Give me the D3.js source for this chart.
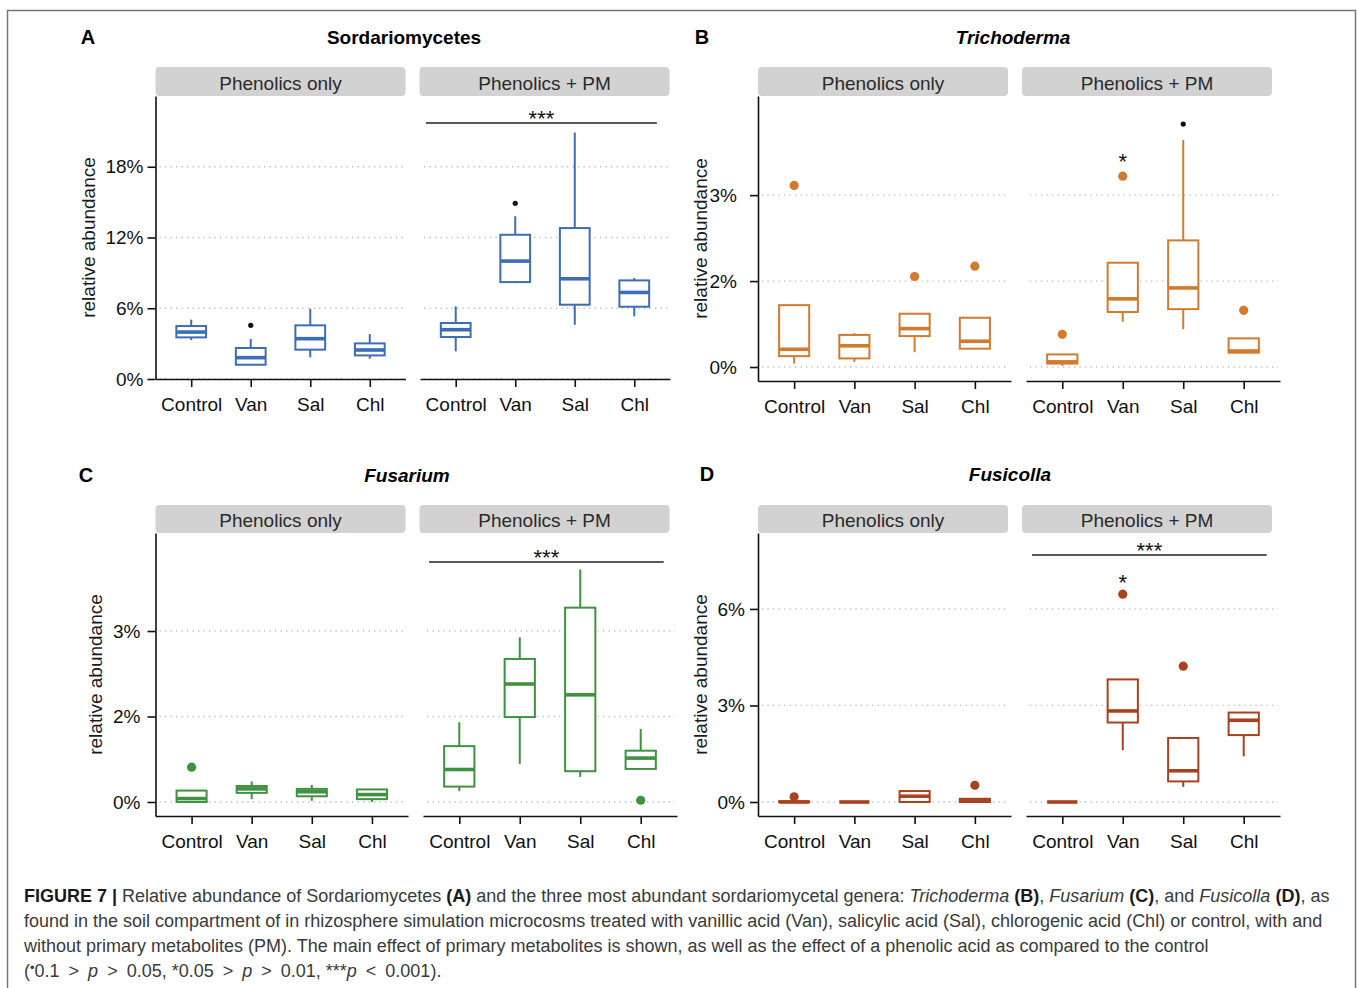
<!DOCTYPE html>
<html>
<head>
<meta charset="utf-8">
<script src="https://cdn.jsdelivr.net/npm/d3@7"></script>
<style>
  body { margin: 0; background: #fff; }
  text { font-family: "Liberation Sans", Arial, Helvetica, sans-serif; }
</style>
</head>
<body>
<svg id="chart" width="1358" height="988"></svg>
<script>
// categories shared by every panel
const groups = ["Control", "Van", "Sal", "Chl"];
const facets = ["Phenolics only", "Phenolics + PM"];

// box stats in %: [facet, group, lower whisker, q1, median, q3, upper whisker]
const sordBoxes = [
  ["Phenolics only", "Control", 3.3, 3.53, 3.98, 4.49, 5.03],
  ["Phenolics only", "Van", 1.2, 1.21, 1.81, 2.63, 3.39],
  ["Phenolics only", "Sal", 1.84, 2.49, 3.42, 4.55, 5.96],
  ["Phenolics only", "Chl", 1.72, 2.0, 2.46, 3.02, 3.81],
  ["Phenolics + PM", "Control", 2.34, 3.56, 4.18, 4.75, 6.16],
  ["Phenolics + PM", "Van", 8.13, 8.22, 10.0, 12.23, 13.8],
  ["Phenolics + PM", "Sal", 4.6, 6.3, 8.5, 12.8, 20.9],
  ["Phenolics + PM", "Chl", 5.31, 6.13, 7.34, 8.36, 8.56]
];
const trichBoxes = [
  ["Phenolics only", "Control", 0.06, 0.19, 0.31, 1.08, 1.08],
  ["Phenolics only", "Van", 0.09, 0.15, 0.37, 0.56, 0.59],
  ["Phenolics only", "Sal", 0.26, 0.54, 0.67, 0.93, 0.93],
  ["Phenolics only", "Chl", 0.32, 0.32, 0.45, 0.86, 0.86],
  ["Phenolics + PM", "Control", 0.02, 0.06, 0.09, 0.22, 0.22],
  ["Phenolics + PM", "Van", 0.79, 0.96, 1.19, 1.82, 1.82],
  ["Phenolics + PM", "Sal", 0.66, 1.01, 1.38, 2.21, 3.96],
  ["Phenolics + PM", "Chl", 0.25, 0.25, 0.28, 0.50, 0.50]
];
const fusaBoxes = [
  ["Phenolics only", "Control", 0, 0, 0.06, 0.20, 0.20],
  ["Phenolics only", "Van", 0.05, 0.16, 0.23, 0.28, 0.36],
  ["Phenolics only", "Sal", 0.02, 0.10, 0.18, 0.23, 0.30],
  ["Phenolics only", "Chl", 0, 0.05, 0.13, 0.22, 0.22],
  ["Phenolics + PM", "Control", 0.19, 0.27, 0.57, 0.98, 1.40],
  ["Phenolics + PM", "Van", 0.67, 1.49, 2.07, 2.51, 2.89],
  ["Phenolics + PM", "Sal", 0.44, 0.54, 1.88, 3.41, 4.08],
  ["Phenolics + PM", "Chl", 0.58, 0.58, 0.77, 0.90, 1.28]
];
const fusiBoxes = [
  ["Phenolics only", "Control", 0, 0, 0, 0.02, 0.02],
  ["Phenolics only", "Van", 0, 0, 0, 0, 0],
  ["Phenolics only", "Sal", 0, 0, 0.18, 0.34, 0.34],
  ["Phenolics only", "Chl", 0, 0, 0.05, 0.10, 0.10],
  ["Phenolics + PM", "Control", 0, 0, 0, 0, 0],
  ["Phenolics + PM", "Van", 1.61, 2.47, 2.83, 3.81, 3.81],
  ["Phenolics + PM", "Sal", 0.47, 0.64, 0.97, 1.99, 1.99],
  ["Phenolics + PM", "Chl", 1.42, 2.08, 2.54, 2.78, 2.80]
];

// outliers in %: [facet, group, value]
const sordOutliers = [];
const trichOutliers = [
  ["Phenolics only", "Control", 3.17],
  ["Phenolics only", "Sal", 1.58],
  ["Phenolics only", "Chl", 1.76],
  ["Phenolics + PM", "Control", 0.57],
  ["Phenolics + PM", "Van", 3.33],
  ["Phenolics + PM", "Chl", 0.99]
];
const fusaOutliers = [
  ["Phenolics only", "Control", 0.61],
  ["Phenolics + PM", "Chl", 0.03]
];
const fusiOutliers = [
  ["Phenolics only", "Control", 0.16],
  ["Phenolics only", "Chl", 0.52],
  ["Phenolics + PM", "Van", 6.46],
  ["Phenolics + PM", "Sal", 4.22]
];

// significance marks vs control: [facet, group, value, symbol]
const sordMarks = [
  ["Phenolics only", "Van", 4.55, "dot"],
  ["Phenolics + PM", "Van", 14.9, "dot"]
];
const trichMarks = [
  ["Phenolics + PM", "Van", 3.66, "*"],
  ["Phenolics + PM", "Sal", 4.24, "dot"]
];
const fusaMarks = [];
const fusiMarks = [
  ["Phenolics + PM", "Van", 6.96, "*"]
];

// main effect of PM: [facet, value, label]
const sordSig = [["Phenolics + PM", 21.7, "***"]];
const trichSig = [];
const fusaSig = [["Phenolics + PM", 4.21, "***"]];
const fusiSig = [["Phenolics + PM", 7.68, "***"]];

// y ticks and their labels
const sordTicks = [0, 6, 12, 18];
const sordTickLabels = ["0%", "6%", "12%", "18%"];
const trichTicks = [0, 1.5, 3];
const trichTickLabels = ["0%", "2%", "3%"];
const fusaTicks = [0, 1.5, 3];
const fusaTickLabels = ["0%", "2%", "3%"];
const fusiTicks = [0, 3, 6];
const fusiTickLabels = ["0%", "3%", "6%"];

// layout of the four panels
const panels = [
  { letter: "A", title: "Sordariomycetes", italic: false, color: "#3c6db5",
    boxes: sordBoxes, outliers: sordOutliers, marks: sordMarks, sig: sordSig,
    ticks: sordTicks, tickLabels: sordTickLabels, domain: [0, 24], yPad: 4,
    fx: [[155.5, 405.5], [420, 670]], strip: [[155.5, 405.5], [419.5, 669.5]],
    stripTop: 67, top: 96, bottom: 379, headY: 37, letterX: 88, titleX: 404, yTitleX: 88 },
  { letter: "B", title: "Trichoderma", italic: true, color: "#d27b2d",
    boxes: trichBoxes, outliers: trichOutliers, marks: trichMarks, sig: trichSig,
    ticks: trichTicks, tickLabels: trichTickLabels, domain: [-0.244, 4.73], yPad: 13,
    fx: [[758, 1011], [1026, 1280]], strip: [[758, 1008], [1022, 1272]],
    stripTop: 67, top: 96, bottom: 381, headY: 37, letterX: 702, titleX: 1013, yTitleX: 700 },
  { letter: "C", title: "Fusarium", italic: true, color: "#3f923f",
    boxes: fusaBoxes, outliers: fusaOutliers, marks: fusaMarks, sig: fusaSig,
    ticks: fusaTicks, tickLabels: fusaTickLabels, domain: [-0.246, 4.72], yPad: 7,
    fx: [[155.5, 408], [423, 677]], strip: [[155.5, 405.5], [419.5, 669.5]],
    stripTop: 505, top: 533, bottom: 816, headY: 475, letterX: 86, titleX: 407, yTitleX: 95 },
  { letter: "D", title: "Fusicolla", italic: true, color: "#a8421f",
    boxes: fusiBoxes, outliers: fusiOutliers, marks: fusiMarks, sig: fusiSig,
    ticks: fusiTicks, tickLabels: fusiTickLabels, domain: [-0.435, 8.36], yPad: 5,
    fx: [[758, 1011], [1026, 1280]], strip: [[758, 1008], [1022, 1272]],
    stripTop: 505, top: 533, bottom: 816, headY: 474, letterX: 707, titleX: 1010, yTitleX: 700 }
];

const svg = d3.select("#chart");

// thin frame around the figure
svg.append("rect")
  .attr("x", 7.5).attr("y", 10.5)
  .attr("width", 1348).attr("height", 1000)
  .attr("fill", "none").attr("stroke", "#777").attr("stroke-width", 1.5);

panels.forEach(p => {
  const g = svg.append("g");
  const y = d3.scaleLinear().domain(p.domain).range([p.bottom, p.top]);

  // panel letter and title
  g.append("text")
    .attr("x", p.letterX).attr("y", p.headY)
    .attr("text-anchor", "middle").attr("dominant-baseline", "central")
    .attr("font-size", 20).attr("font-weight", "bold").attr("fill", "#000")
    .text(p.letter);
  g.append("text")
    .attr("x", p.titleX).attr("y", p.headY)
    .attr("text-anchor", "middle").attr("dominant-baseline", "central")
    .attr("font-size", 19).attr("font-weight", "bold")
    .attr("font-style", p.italic ? "italic" : "normal").attr("fill", "#000")
    .text(p.title);

  // y axis title
  g.append("text")
    .attr("transform", `translate(${p.yTitleX},${(p.top + p.bottom) / 2}) rotate(-90)`)
    .attr("text-anchor", "middle").attr("dominant-baseline", "central")
    .attr("font-size", 19).attr("fill", "#1a1a1a")
    .text("relative abundance");

  facets.forEach((f, fi) => {
    const [x0, x1] = p.fx[fi];
    const x = d3.scalePoint().domain(groups).range([x0, x1]).padding(0.6);
    const step = x.step();
    const bw = step * 0.5;

    // strip header
    const [s0, s1] = p.strip[fi];
    g.append("rect")
      .attr("x", s0).attr("y", p.stripTop)
      .attr("width", s1 - s0).attr("height", p.top - p.stripTop)
      .attr("rx", 4).attr("fill", "#d2d2d2");
    g.append("text")
      .attr("x", (s0 + s1) / 2).attr("y", (p.stripTop + p.top) / 2 + 1.5)
      .attr("text-anchor", "middle").attr("dominant-baseline", "central")
      .attr("font-size", 19).attr("fill", "#2a2a2a")
      .text(f);

    // dotted grid lines at the y ticks
    g.append("g").selectAll("line")
      .data(p.ticks)
      .join("line")
      .attr("x1", x0 + 4).attr("x2", x1 - 2)
      .attr("y1", d => y(d)).attr("y2", d => y(d))
      .attr("stroke", "#bdbdbd").attr("stroke-width", 1.3)
      .attr("stroke-dasharray", "1.3,4.2");

    // x axis
    const xa = g.append("g")
      .attr("transform", `translate(0,${p.bottom})`)
      .call(d3.axisBottom(x).tickSize(8).tickSizeOuter(0).tickPadding(11));
    xa.attr("font-size", 19).attr("font-family", null).attr("color", "#111");
    xa.selectAll("path, line").attr("stroke-width", 1.6);

    // y axis only on the first facet
    if (fi === 0) {
      const ya = g.append("g")
        .attr("transform", `translate(${x0},0)`)
        .call(d3.axisLeft(y)
          .tickValues(p.ticks)
          .tickFormat((d, i) => p.tickLabels[i])
          .tickSize(8).tickSizeOuter(0).tickPadding(p.yPad));
      ya.attr("font-size", 19).attr("font-family", null).attr("color", "#111");
      ya.selectAll("path, line").attr("stroke-width", 1.6);
    }

    const rows = p.boxes.filter(d => d[0] === f);

    // whiskers
    g.append("g").selectAll("line")
      .data(rows.flatMap(d => [[d[1], d[2], d[3]], [d[1], d[5], d[6]]]))
      .join("line")
      .attr("x1", d => x(d[0])).attr("x2", d => x(d[0]))
      .attr("y1", d => y(d[1])).attr("y2", d => y(d[2]))
      .attr("stroke", p.color).attr("stroke-width", 2);

    // boxes
    g.append("g").selectAll("rect")
      .data(rows)
      .join("rect")
      .attr("x", d => x(d[1]) - bw / 2).attr("width", bw)
      .attr("y", d => y(d[5]))
      .attr("height", d => y(d[3]) - y(d[5]))
      .attr("fill", "#fff").attr("stroke", p.color).attr("stroke-width", 2);

    // medians
    g.append("g").selectAll("line")
      .data(rows)
      .join("line")
      .attr("x1", d => x(d[1]) - bw / 2).attr("x2", d => x(d[1]) + bw / 2)
      .attr("y1", d => y(d[4])).attr("y2", d => y(d[4]))
      .attr("stroke", p.color).attr("stroke-width", 3.6);

    // outliers
    g.append("g").selectAll("circle")
      .data(p.outliers.filter(d => d[0] === f))
      .join("circle")
      .attr("cx", d => x(d[1])).attr("cy", d => y(d[2]))
      .attr("r", 4.6).attr("fill", p.color);

    // significance marks vs control
    const marks = p.marks.filter(d => d[0] === f);
    g.append("g").selectAll("circle")
      .data(marks.filter(d => d[3] === "dot"))
      .join("circle")
      .attr("cx", d => x(d[1])).attr("cy", d => y(d[2]))
      .attr("r", 2.6).attr("fill", "#111");
    g.append("g").selectAll("text")
      .data(marks.filter(d => d[3] !== "dot"))
      .join("text")
      .attr("x", d => x(d[1])).attr("y", d => y(d[2]) + 12)
      .attr("text-anchor", "middle").attr("font-size", 22).attr("fill", "#111")
      .text(d => d[3]);

    // main effect bar
    const sig = p.sig.filter(d => d[0] === f);
    sig.forEach(s => {
      const a = x(groups[0]) - step * 0.5;
      const b = x(groups[groups.length - 1]) + step * 0.38;
      g.append("line")
        .attr("x1", a).attr("x2", b)
        .attr("y1", y(s[1])).attr("y2", y(s[1]))
        .attr("stroke", "#222").attr("stroke-width", 1.5);
      g.append("text")
        .attr("x", (a + b) / 2).attr("y", y(s[1]) + 3)
        .attr("text-anchor", "middle").attr("font-size", 22).attr("fill", "#111")
        .text(s[2]);
    });
  });
});

// caption
const cap = svg.append("g").attr("font-size", 18).attr("fill", "#3a3a3a");
const capLines = [
  [["FIGURE 7 |", "b"], [" Relative abundance of Sordariomycetes "], ["(A)", "b"],
   [" and the three most abundant sordariomycetal genera: "], ["Trichoderma", "i"], [" "], ["(B)", "b"],
   [", "], ["Fusarium", "i"], [" "], ["(C)", "b"], [", and "], ["Fusicolla", "i"], [" "], ["(D)", "b"], [", as"]],
  [["found in the soil compartment of in rhizosphere simulation microcosms treated with vanillic acid (Van), salicylic acid (Sal), chlorogenic acid (Chl) or control, with and"]],
  [["without primary metabolites (PM). The main effect of primary metabolites is shown, as well as the effect of a phenolic acid as compared to the control"]],
  [["("], ["•", "sup"], ["0.1\u2002>\u2002", "down"], ["p", "i"], ["\u2002>\u20020.05, *0.05\u2002>\u2002"], ["p", "i"],
   ["\u2002>\u20020.01, ***"], ["p", "i"], ["\u2002<\u20020.001)."]]
];
const capY = [902, 927, 952, 977];
capLines.forEach((line, li) => {
  const t = cap.append("text").attr("x", 24).attr("y", capY[li]);
  line.forEach(([s, st]) => {
    const ts = t.append("tspan").text(s);
    if (st === "b") ts.attr("font-weight", "bold").attr("fill", "#1a1a1a");
    if (st === "i") ts.attr("font-style", "italic");
    if (st === "sup") ts.attr("font-size", 13).attr("dy", -5);
    if (st === "down") ts.attr("dy", 5);
  });
});
</script>
</body>
</html>
